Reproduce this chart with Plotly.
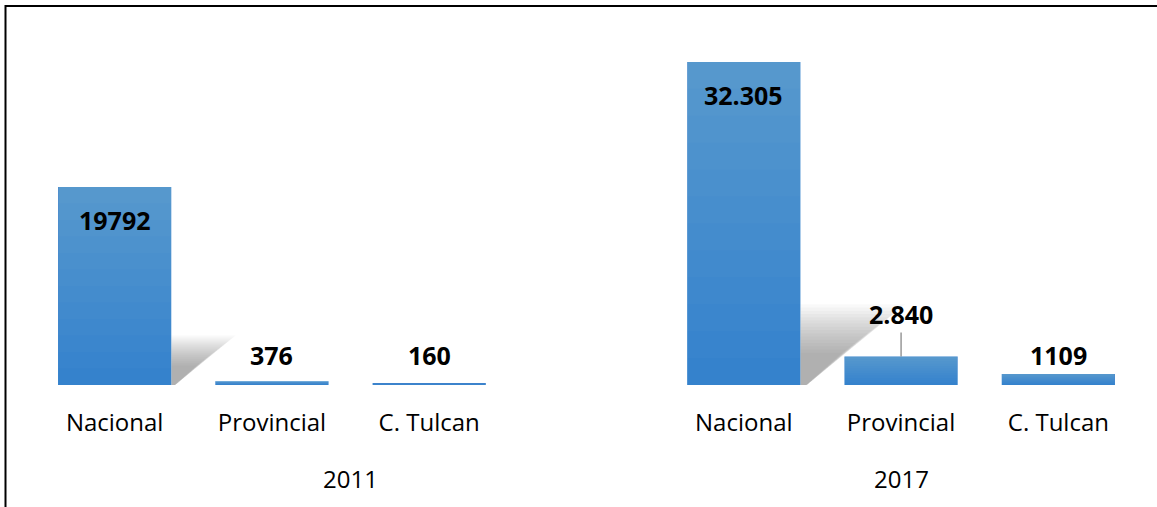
import plotly.graph_objects as go

years = ["2011", "2017"]
categories = ["Nacional", "Provincial", "C. Tulcan"]
values_2011 = [19792, 376, 160]
values_2017 = [32305, 2840, 1109]
labels_2011 = ["19792", "376", "160"]
labels_2017 = ["32.305", "2.840", "1109"]

# slot layout: 2011 group uses slots 0-2 plus one empty slot (3); 2017 uses 4-6
group_values = [values_2011, values_2017]
group_labels = [labels_2011, labels_2017]
group_start = [0, 4]
group_span = [4, 3]

xs, ys, txt, cats = [], [], [], []
for g in range(2):
    for i, c in enumerate(categories):
        xs.append(group_start[g] + i)
        ys.append(group_values[g][i])
        txt.append(group_labels[g][i])
        cats.append(c)

BAR = "#3582cc"
FONT = "Open Sans"
fig = go.Figure()

# soft shadow behind the tallest bar of each group
shapes = []
bw = 0.72
for g in range(2):
    v = group_values[g][0]
    xr = group_start[g] + bw / 2
    h = 0.25 * v
    dx = h / 100 * 1.3 / 157.3
    for k in range(16):
        s = 1 - 0.04 * k
        shapes.append(dict(
            type="path", xref="x", yref="y",
            path=f"M {xr},0 L {xr},{h*s} L {xr+dx*s},{h*s} L {xr+dx*0.06},0 Z",
            fillcolor="rgba(110,110,110,0.04)", line=dict(width=0), layer="below"))

fig.add_trace(go.Bar(
    x=xs, y=ys, width=bw,
    marker=dict(color=BAR, line=dict(width=0)),
    hoverinfo="skip",
))

# vertical gradient (lighter at the top of each bar) via translucent overlays
N = 12
for k in range(1, N + 1):
    f = k / N
    fig.add_trace(go.Bar(
        x=xs, y=[v * (1 - f) for v in ys], base=[v * f for v in ys], width=bw,
        marker=dict(color="rgba(255,255,255,0.019)", line=dict(width=0)),
        hoverinfo="skip",
    ))

annotations = []
for x, y, t in zip(xs, ys, txt):
    if y > 10000:
        annotations.append(dict(x=x, y=y, xref="x", yref="y", text=f"<b>{t}</b>",
                                showarrow=False, yanchor="top", yshift=-14))
    elif t == "2.840":
        annotations.append(dict(x=x, y=y, xref="x", yref="y", text=f"<b>{t}</b>",
                                showarrow=True, arrowhead=0, arrowwidth=1.2,
                                arrowcolor="#7f7f7f", ax=0, ay=-24, yanchor="bottom"))
    else:
        annotations.append(dict(x=x, y=0, xref="x", yref="y", text=f"<b>{t}</b>",
                                showarrow=False, yanchor="bottom", yshift=11))
for a in annotations:
    a["font"] = dict(size=25, color="#000000", family=FONT)
for g in range(2):
    cx = group_start[g] + (group_span[g] - 1) / 2
    annotations.append(dict(x=cx, y=-0.266, xref="x", yref="paper", text=years[g],
                            showarrow=False, yanchor="middle",
                            font=dict(size=24, color="#000000", family=FONT)))

# outer frame
shapes.append(dict(type="rect", xref="paper", yref="paper",
                   x0=-0.0277, x1=1.2, y0=-0.6, y1=1.0829,
                   line=dict(color="#000000", width=2), fillcolor="rgba(0,0,0,0)"))

fig.update_layout(
    width=1157, height=507,
    margin=dict(l=36, r=20, t=35, b=122),
    paper_bgcolor="white", plot_bgcolor="white",
    showlegend=False,
    barmode="overlay",
    shapes=shapes,
    annotations=annotations,
    font=dict(family=FONT, color="#000000"),
    xaxis=dict(range=[-0.5, 6.5], tickvals=xs, ticktext=cats, showgrid=False,
               zeroline=False, showline=False, ticks="", ticklabelstandoff=21,
               tickfont=dict(size=24, color="#000000", family=FONT)),
    yaxis=dict(range=[0, 35000], visible=False, showgrid=False, zeroline=False),
)

fig.write_html("out.html", config={"displayModeBar": False},
               post_script="document.body.style.margin='0';document.body.style.overflow='hidden';")
